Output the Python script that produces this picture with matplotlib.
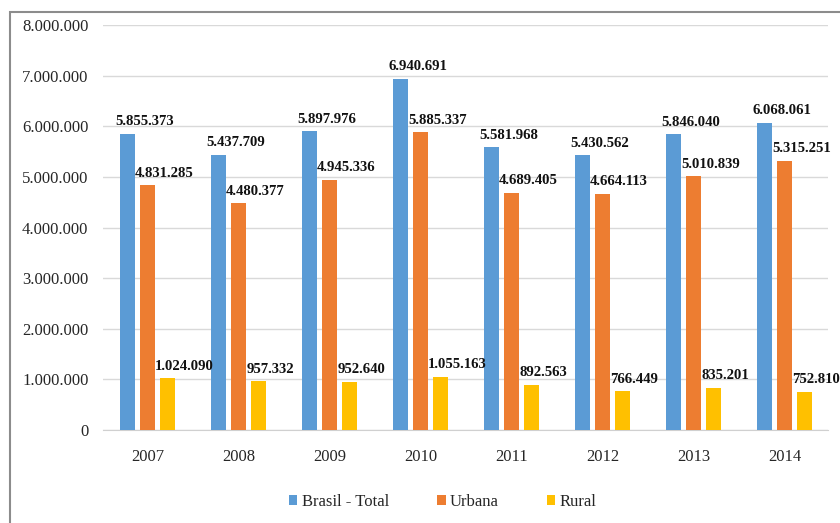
import numpy as np
from matplotlib import pyplot as plt
from matplotlib.patches import Rectangle
from matplotlib.ticker import FuncFormatter

years = ['2007', '2008', '2009', '2010', '2011', '2012', '2013', '2014']
brasil_total = [5855373, 5437709, 5897976, 6940691, 5581968, 5430562, 5846040, 6068061]
urbana = [4831285, 4480377, 4945336, 5885337, 4689405, 4664113, 5010839, 5315251]
rural = [1024090, 957332, 952640, 1055163, 892563, 766449, 835201, 752810]

series_names = ['Brasil - Total', 'Urbana', 'Rural']
colors = ['#5B9BD5', '#ED7D31', '#FFC000']


def fmt_pt(v):
    # thousands separated by dots
    return '{:,}'.format(int(v)).replace(',', '.')


def main():
    plt.rcParams['font.family'] = ['Liberation Serif', 'DejaVu Serif']

    fig = plt.figure(figsize=(8.4, 5.23), dpi=100)
    ax = fig.add_axes([0.1226, 0.178, 0.8634, 0.774])

    x = np.arange(len(years))
    w = 0.166
    step = 0.22
    data = [brasil_total, urbana, rural]

    for i, (vals, col, name) in enumerate(zip(data, colors, series_names)):
        pos = x + (i - 1) * step
        ax.bar(pos, vals, width=w, color=col, label=name, zorder=3)
        for p, v in zip(pos, vals):
            ax.annotate(fmt_pt(v), (p - w / 2, v), xytext=(-3.5, 4),
                        textcoords='offset points', ha='left', va='bottom',
                        fontsize=10.6, fontweight='bold', color='#111111',
                        zorder=4)

    ax.set_ylim(0, 8000000)
    ax.set_xlim(-0.489, 7.478)
    ax.set_yticks(np.arange(0, 8000001, 1000000))
    ax.yaxis.set_major_formatter(FuncFormatter(lambda v, _: fmt_pt(v)))
    ax.set_xticks(x)
    ax.set_xticklabels(years)

    ax.grid(axis='y', color='#d9d9d9', linewidth=1, zorder=0)
    for s in ['top', 'right', 'left']:
        ax.spines[s].set_visible(False)
    ax.spines['bottom'].set_color('#d0d0d0')
    ax.tick_params(axis='both', length=0, labelsize=12, colors='#262626')
    ax.tick_params(axis='x', pad=14)
    ax.tick_params(axis='y', pad=10.5)

    fig.legend(loc='center', bbox_to_anchor=(0.527, 0.040), ncol=3,
               frameon=False, fontsize=12, handlelength=0.5,
               handleheight=0.5, handletextpad=0.25, columnspacing=2.9,
               labelcolor='#262626')

    # outer frame of the chart area
    fig.patches.append(Rectangle((10 / 840, -0.1), 1.2, 1.1 - 12 / 523,
                                 transform=fig.transFigure, fill=False,
                                 edgecolor='#8c8c8c', linewidth=1.5))

    fig.savefig('out.png', dpi=100)


if __name__ == '__main__':
    main()
